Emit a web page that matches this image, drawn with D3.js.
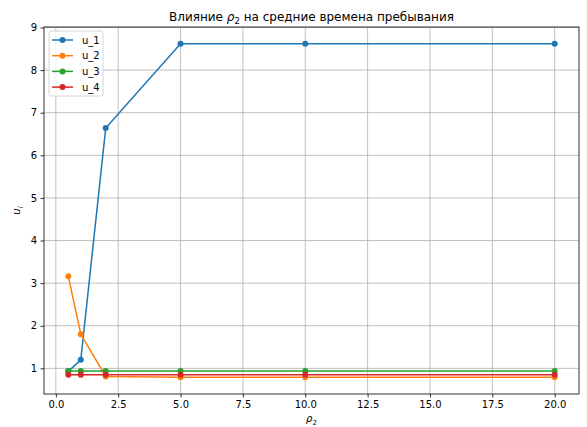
<!DOCTYPE html>
<html>
<head>
<meta charset="utf-8">
<script src="https://cdn.jsdelivr.net/npm/d3@7"></script>
<style>
  body { margin: 0; background: #fff; }
  text { font-family: "DejaVu Sans", sans-serif; fill: #000; }
</style>
</head>
<body>
<svg id="chart" width="587" height="427"></svg>
<script>
const rho2 = [0.5, 1, 2, 5, 10, 20];
const u1 = [0.93, 1.20, 6.64, 8.62, 8.62, 8.62];
const u2 = [3.16, 1.80, 0.81, 0.79, 0.79, 0.79];
const u3 = [0.94, 0.94, 0.94, 0.94, 0.94, 0.94];
const u4 = [0.85, 0.85, 0.85, 0.85, 0.85, 0.85];
const seriesNames = ["u_1", "u_2", "u_3", "u_4"];
const seriesColors = ["#1f77b4", "#ff7f0e", "#2ca02c", "#d62728"];
const xTicks = [0, 2.5, 5, 7.5, 10, 12.5, 15, 17.5, 20];
const yTicks = [1, 2, 3, 4, 5, 6, 7, 8, 9];

const series = [u1, u2, u3, u4];

const margin = { left: 44, right: 8, top: 27, bottom: 33 };
const width = 587, height = 427;

const svg = d3.select("#chart");

// matplotlib-like 5% margins
const xMin = d3.min(rho2), xMax = d3.max(rho2);
const allY = series.flat();
const yMin = d3.min(allY), yMax = d3.max(allY);
const xPad = (xMax - xMin) * 0.05, yPad = (yMax - yMin) * 0.05;

const x = d3.scaleLinear()
  .domain([xMin - xPad, xMax + xPad])
  .range([margin.left, width - margin.right]);
const y = d3.scaleLinear()
  .domain([yMin - yPad, yMax + yPad])
  .range([height - margin.bottom, margin.top]);

// grid
svg.append("g")
  .selectAll("line")
  .data(xTicks)
  .enter()
  .append("line")
  .attr("x1", d => x(d)).attr("x2", d => x(d))
  .attr("y1", margin.top).attr("y2", height - margin.bottom)
  .attr("stroke", "#b0b0b0").attr("stroke-width", 0.8);
svg.append("g")
  .selectAll("line")
  .data(yTicks)
  .enter()
  .append("line")
  .attr("x1", margin.left).attr("x2", width - margin.right)
  .attr("y1", d => y(d)).attr("y2", d => y(d))
  .attr("stroke", "#b0b0b0").attr("stroke-width", 0.8);

// axes
const xAxis = svg.append("g")
  .attr("transform", "translate(0," + (height - margin.bottom) + ")")
  .call(d3.axisBottom(x).tickValues(xTicks).tickFormat(d3.format(".1f")).tickSizeOuter(0).tickSize(3.5).tickPadding(3.5));
const yAxis = svg.append("g")
  .attr("transform", "translate(" + margin.left + ",0)")
  .call(d3.axisLeft(y).tickValues(yTicks).tickFormat(d3.format("d")).tickSizeOuter(0).tickSize(3.5).tickPadding(3.5));
[xAxis, yAxis].forEach(a => {
  a.select(".domain").remove();
  a.selectAll(".tick line").attr("stroke", "#000").attr("stroke-width", 0.8);
  a.selectAll(".tick text").style("font-family", "DejaVu Sans").style("font-size", "10px").attr("fill", "#000");
});

// frame
svg.append("rect")
  .attr("x", margin.left).attr("y", margin.top)
  .attr("width", width - margin.left - margin.right)
  .attr("height", height - margin.top - margin.bottom)
  .attr("fill", "none").attr("stroke", "#000").attr("stroke-width", 0.8);

// lines
const line = d3.line()
  .x((d, i) => x(rho2[i]))
  .y(d => y(d));

series.forEach((s, k) => {
  svg.append("path")
    .datum(s)
    .attr("d", line)
    .attr("fill", "none")
    .attr("stroke", seriesColors[k])
    .attr("stroke-width", 1.5);
  svg.append("g")
    .selectAll("circle")
    .data(s)
    .enter()
    .append("circle")
    .attr("cx", (d, i) => x(rho2[i]))
    .attr("cy", d => y(d))
    .attr("r", 3)
    .attr("fill", seriesColors[k]);
});

// title
const title = svg.append("text")
  .attr("x", (margin.left + width - margin.right) / 2)
  .attr("y", 21)
  .attr("text-anchor", "middle")
  .style("font-size", "12px");
title.append("tspan").text("Влияние ");
title.append("tspan").style("font-style", "italic").text("ρ");
title.append("tspan").attr("dy", 3).style("font-size", "8.5px").text("2");
title.append("tspan").attr("dy", -3).text(" на средние времена пребывания");

// x label
const xl = svg.append("text")
  .attr("x", (margin.left + width - margin.right) / 2)
  .attr("y", 422)
  .attr("text-anchor", "middle")
  .style("font-size", "10px");
xl.append("tspan").style("font-style", "italic").text("ρ");
xl.append("tspan").attr("dy", 2.5).style("font-size", "7px").text("2");

// y label
const yl = svg.append("text")
  .attr("transform", "translate(20," + ((margin.top + height - margin.bottom) / 2) + ") rotate(-90)")
  .attr("text-anchor", "middle")
  .style("font-size", "10px");
yl.append("tspan").style("font-style", "italic").text("u");
yl.append("tspan").attr("dy", 2.5).style("font-size", "7px").style("font-style", "italic").text("i");

// legend
const legend = svg.append("g").attr("transform", "translate(49,31)");
legend.append("rect")
  .attr("width", 54).attr("height", 65).attr("rx", 2)
  .attr("fill", "#fff").attr("fill-opacity", 0.8)
  .attr("stroke", "#cccccc").attr("stroke-width", 0.8);
seriesNames.forEach((name, k) => {
  const ly = 9 + k * 15.7;
  legend.append("line")
    .attr("x1", 3).attr("x2", 24).attr("y1", ly).attr("y2", ly)
    .attr("stroke", seriesColors[k]).attr("stroke-width", 1.5);
  legend.append("circle")
    .attr("cx", 13.5).attr("cy", ly).attr("r", 3)
    .attr("fill", seriesColors[k]);
  legend.append("text")
    .attr("x", 33).attr("y", ly + 3.5)
    .style("font-size", "10px")
    .text(name);
});
</script>
</body>
</html>
